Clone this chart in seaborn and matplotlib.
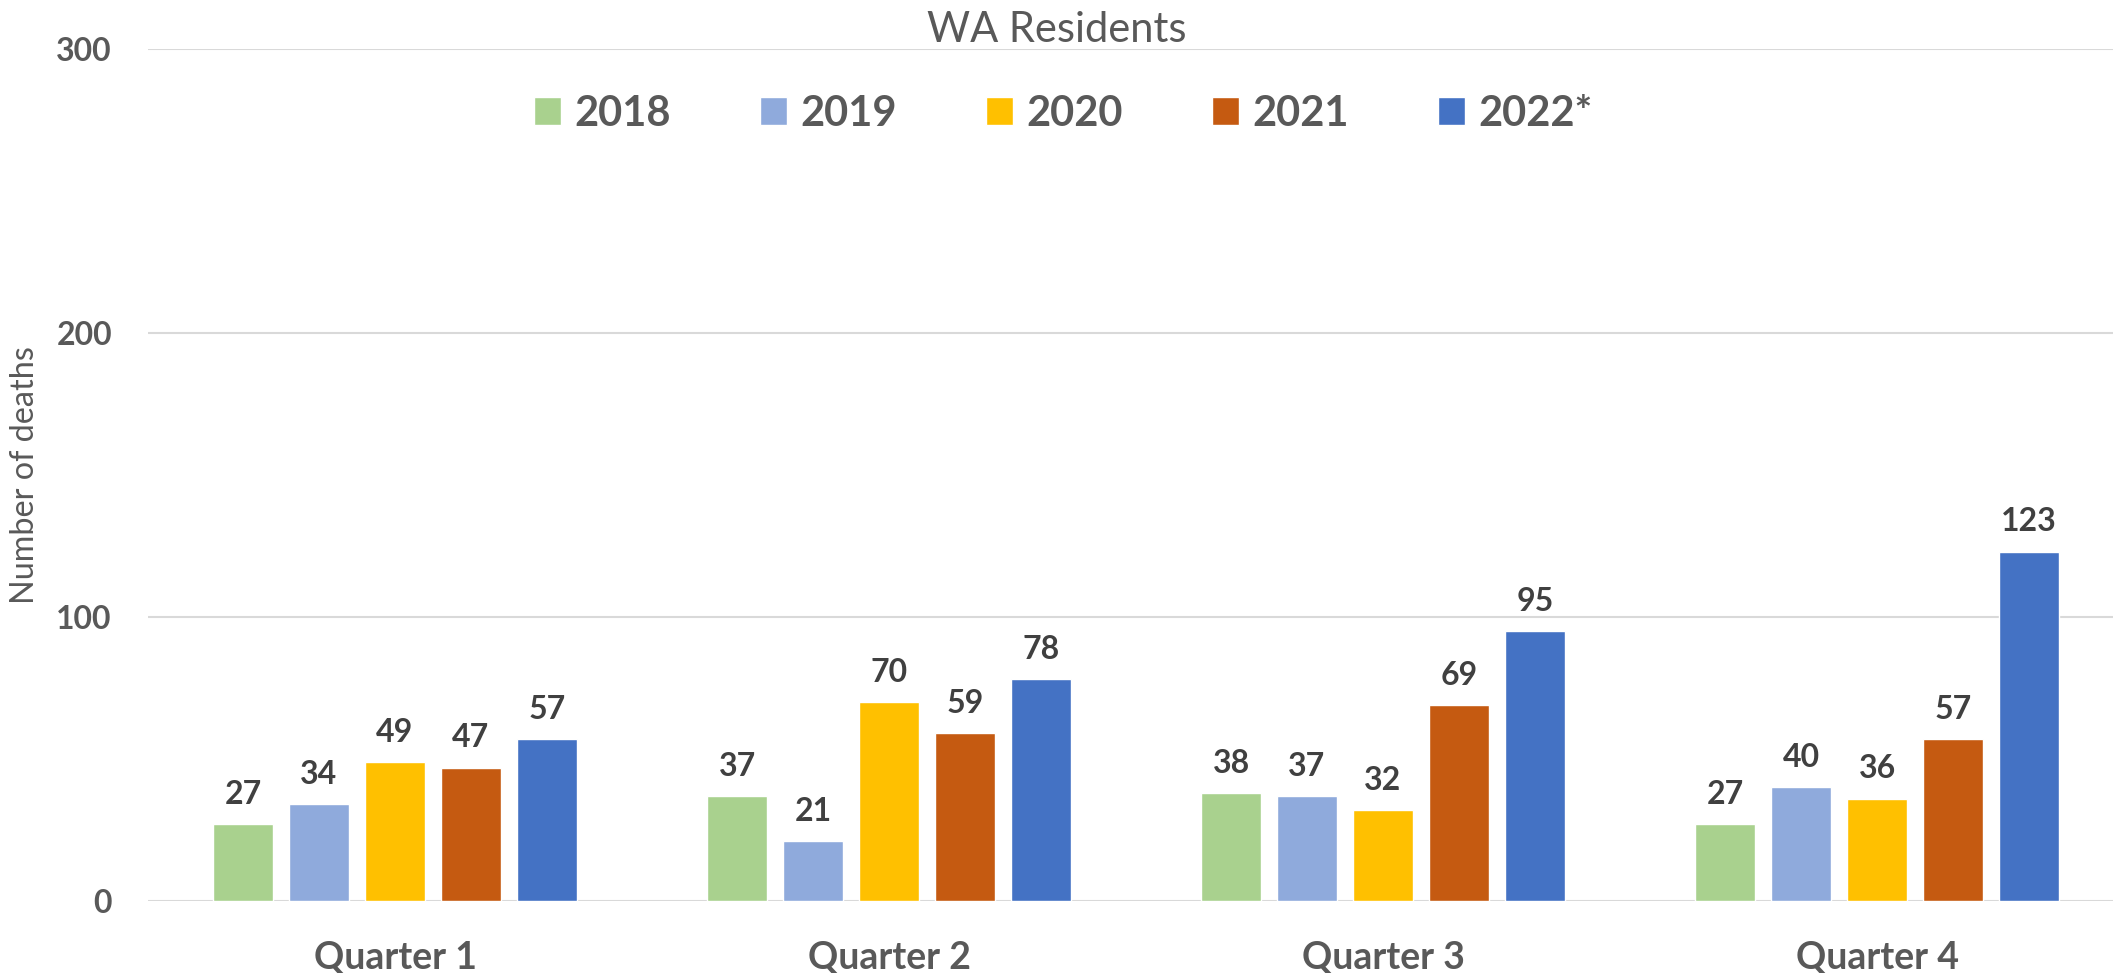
import matplotlib
matplotlib.use("Agg")
import matplotlib.pyplot as plt
import seaborn as sns
import pandas as pd

quarters = ["Quarter 1", "Quarter 2", "Quarter 3", "Quarter 4"]
years = ["2018", "2019", "2020", "2021", "2022*"]
deaths_2018 = [27, 37, 38, 27]
deaths_2019 = [34, 21, 37, 40]
deaths_2020 = [49, 70, 32, 36]
deaths_2021 = [47, 59, 69, 57]
deaths_2022 = [57, 78, 95, 123]
colors = ["#A9D18E", "#8FAADC", "#FFC000", "#C55A11", "#4472C4"]
y_ticks = [0, 100, 200, 300]

series = [deaths_2018, deaths_2019, deaths_2020, deaths_2021, deaths_2022]
rows = []
for yr, vals in zip(years, series):
    for q, v in zip(quarters, vals):
        rows.append({"Quarter": q, "Year": yr, "Deaths": v})
df = pd.DataFrame(rows)

sns.set_style("white")
plt.rcParams["font.family"] = ["Lato", "DejaVu Sans"]

W, H = 2113, 973
fig = plt.figure(figsize=(W / 100, H / 100), dpi=100)
ax_left, ax_right, ax_top, ax_bot = 148, 2124, 49, 901
ax = fig.add_axes([ax_left / W, 1 - ax_bot / H, (ax_right - ax_left) / W, (ax_bot - ax_top) / H])

sns.barplot(data=df, x="Quarter", y="Deaths", hue="Year", order=quarters,
            hue_order=years, palette=colors, width=0.769, gap=0.21,
            saturation=1, ax=ax, legend=True)

ax.set_xlim(-0.5, 3.5)
ax.set_ylim(0, 300)
ax.set_yticks(y_ticks)
ax.set_axisbelow(True)
ax.yaxis.grid(True, color="#D9D9D9", linewidth=1.5)
ax.xaxis.grid(False)
for s in ax.spines.values():
    s.set_visible(False)

ax.tick_params(axis="y", length=0, pad=26, labelsize=23, labelcolor="#595959")
ax.tick_params(axis="x", length=0, pad=29, labelsize=27, labelcolor="#595959")
for lab in ax.get_yticklabels() + ax.get_xticklabels():
    lab.set_fontweight("bold")

ax.set_xlabel("")
ax.set_ylabel("Number of deaths", fontsize=22, color="#595959")
ax.yaxis.set_label_coords(-(ax_left - 40) / (ax_right - ax_left), 0.5)

for cont in ax.containers:
    ax.bar_label(cont, padding=11, fontsize=23, fontweight="bold", color="#404040")

handles, labels = ax.get_legend_handles_labels()
if ax.legend_:
    ax.legend_.remove()
fig.legend(handles, labels, loc="center left", bbox_to_anchor=(534 / W, 1 - 113.5 / H),
           ncol=5, frameon=False, prop={"size": 30, "weight": "bold"},
           labelcolor="#595959", handlelength=0.65, handleheight=0.65,
           handletextpad=0.31, columnspacing=2.15, borderpad=0, borderaxespad=0)

fig.text(0.5, 1 - 42 / H, "WA Residents", ha="center", va="baseline",
         fontsize=30, color="#595959")

# fit y-label length to the reference (about 257 px)
fig.canvas.draw()
r = fig.canvas.get_renderer()
ext = ax.yaxis.label.get_window_extent(r)
ax.yaxis.label.set_fontsize(22 * 257 / ext.height)

fig.savefig("out.png", dpi=100)
